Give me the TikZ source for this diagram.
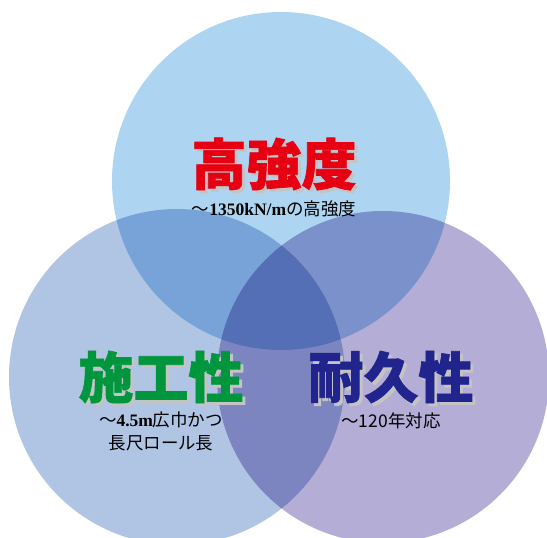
\documentclass[tikz,border=0pt]{standalone}
\usepackage{fontspec}
\usetikzlibrary{positioning}
\newfontfamily\cjk{Noto Sans CJK JP}[BoldFeatures={FakeBold=1.2}]
\newfontfamily\lat{Liberation Serif}
\definecolor{topblue}{RGB}{173,213,242}
\definecolor{leftblue}{RGB}{176,196,228}
\definecolor{rightpurple}{RGB}{180,174,214}
\definecolor{redtxt}{RGB}{230,0,18}
\definecolor{greentxt}{RGB}{0,150,62}
\definecolor{navytxt}{RGB}{32,36,140}
\definecolor{shadowgray}{RGB}{196,196,196}
\tikzset{
  ring/.style={blend mode=multiply},
  title/.style={font=\cjk\bfseries\fontsize{55}{55}\selectfont, inner sep=0pt},
  shade/.style={title, text=shadowgray},
  sub/.style={font=\cjk\fontsize{17.5}{23}\selectfont, align=center, inner sep=0pt}
}
\begin{document}
\begin{tikzpicture}[x=1pt,y=-1pt]
    \useasboundingbox (0,0) rectangle (547,538);
    \fill[white] (0,0) rectangle (547,538);
    \begin{scope}[transparency group]
        \fill[topblue,ring] (281,181) circle (169);
        \fill[leftblue,ring] (177,377) circle (168);
        \fill[rightpurple,ring] (383,377) circle (166);
    \end{scope}
    % titles with shadow
    \node[shade] at (277,167) {高強度};
    \node[title, text=redtxt] (strength) at (274,164) {高強度};
    \node[sub, below=10pt of strength] (strengthsub) {～{\lat\bfseries 1350kN/m}の高強度};
    \node[shade] at (164,380) {施工性};
    \node[title, text=greentxt] (workability) at (161,377) {施工性};
    \node[sub, below=8pt of workability] (worksub) {～{\lat\bfseries 4.5m}広巾かつ\\長尺ロール長};
    \node[shade] at (394,380) {耐久性};
    \node[title, text=navytxt] (durability) at (391,377) {耐久性};
    \node[sub, below=9pt of durability] (durasub) {～120年対応};
\end{tikzpicture}
\end{document}
